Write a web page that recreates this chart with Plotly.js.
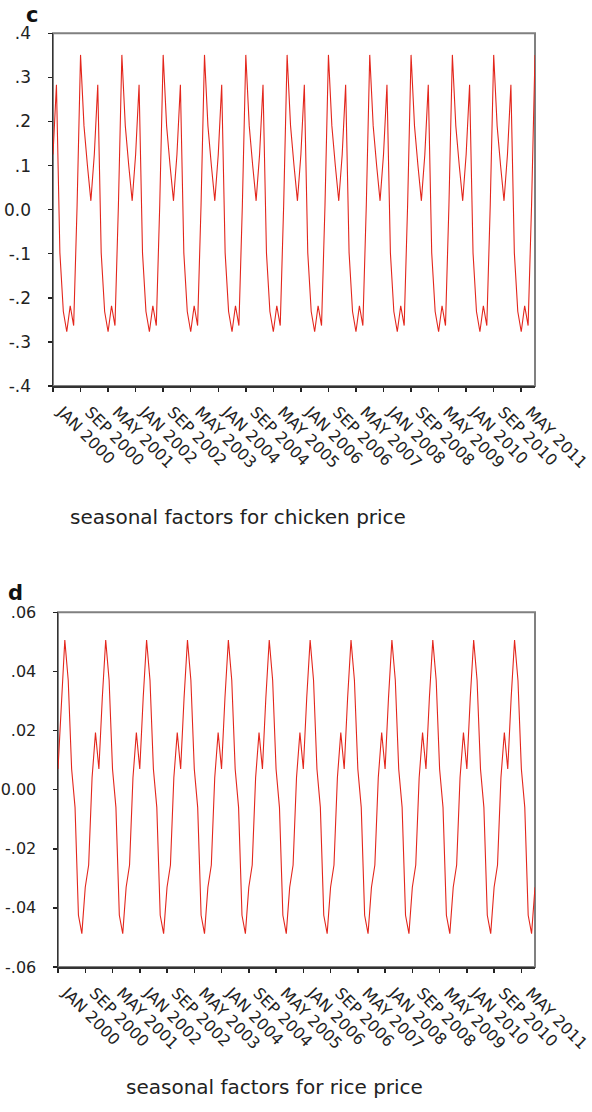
<!DOCTYPE html>
<html>
<head>
<meta charset="utf-8">
<script src="https://cdn.plot.ly/plotly-3.0.1.min.js"></script>
<style>
html,body{margin:0;padding:0;background:#fff;}
#chart{width:592px;height:1112px;}
</style>
</head>
<body>
<div id="chart"></div>
<script>
// Month categories Jan 2000 .. Sep 2011
var monthNames = ["JAN","FEB","MAR","APR","MAY","JUN","JUL","AUG","SEP","OCT","NOV","DEC"];
var years = [2000,2001,2002,2003,2004,2005,2006,2007,2008,2009,2010,2011];
var lastYearMonths = 9;

// Tick labels (every 8 months)
var tickLabels = ["JAN 2000","SEP 2000","MAY 2001","JAN 2002","SEP 2002","MAY 2003",
  "JAN 2004","SEP 2004","MAY 2005","JAN 2006","SEP 2006","MAY 2007",
  "JAN 2008","SEP 2008","MAY 2009","JAN 2010","SEP 2010","MAY 2011"];

// Seasonal factors for chicken price (monthly, Jan 2000 - Sep 2011)
var chicken = [
  0.125, 0.283, -0.098, -0.231, -0.277, -0.218, -0.263, 0.010, 0.351, 0.190, 0.100, 0.020,
  0.125, 0.283, -0.098, -0.231, -0.277, -0.218, -0.263, 0.010, 0.351, 0.190, 0.100, 0.020,
  0.125, 0.283, -0.098, -0.231, -0.277, -0.218, -0.263, 0.010, 0.351, 0.190, 0.100, 0.020,
  0.125, 0.283, -0.098, -0.231, -0.277, -0.218, -0.263, 0.010, 0.351, 0.190, 0.100, 0.020,
  0.125, 0.283, -0.098, -0.231, -0.277, -0.218, -0.263, 0.010, 0.351, 0.190, 0.100, 0.020,
  0.125, 0.283, -0.098, -0.231, -0.277, -0.218, -0.263, 0.010, 0.351, 0.190, 0.100, 0.020,
  0.125, 0.283, -0.098, -0.231, -0.277, -0.218, -0.263, 0.010, 0.351, 0.190, 0.100, 0.020,
  0.125, 0.283, -0.098, -0.231, -0.277, -0.218, -0.263, 0.010, 0.351, 0.190, 0.100, 0.020,
  0.125, 0.283, -0.098, -0.231, -0.277, -0.218, -0.263, 0.010, 0.351, 0.190, 0.100, 0.020,
  0.125, 0.283, -0.098, -0.231, -0.277, -0.218, -0.263, 0.010, 0.351, 0.190, 0.100, 0.020,
  0.125, 0.283, -0.098, -0.231, -0.277, -0.218, -0.263, 0.010, 0.351, 0.190, 0.100, 0.020,
  0.125, 0.283, -0.098, -0.231, -0.277, -0.218, -0.263, 0.010, 0.351
];

// Seasonal factors for rice price (monthly, Jan 2000 - Sep 2011)
var rice = [
  0.007, 0.031, 0.0506, 0.037, 0.007, -0.006, -0.0425, -0.0487, -0.033, -0.0255, 0.004, 0.0193,
  0.007, 0.031, 0.0506, 0.037, 0.007, -0.006, -0.0425, -0.0487, -0.033, -0.0255, 0.004, 0.0193,
  0.007, 0.031, 0.0506, 0.037, 0.007, -0.006, -0.0425, -0.0487, -0.033, -0.0255, 0.004, 0.0193,
  0.007, 0.031, 0.0506, 0.037, 0.007, -0.006, -0.0425, -0.0487, -0.033, -0.0255, 0.004, 0.0193,
  0.007, 0.031, 0.0506, 0.037, 0.007, -0.006, -0.0425, -0.0487, -0.033, -0.0255, 0.004, 0.0193,
  0.007, 0.031, 0.0506, 0.037, 0.007, -0.006, -0.0425, -0.0487, -0.033, -0.0255, 0.004, 0.0193,
  0.007, 0.031, 0.0506, 0.037, 0.007, -0.006, -0.0425, -0.0487, -0.033, -0.0255, 0.004, 0.0193,
  0.007, 0.031, 0.0506, 0.037, 0.007, -0.006, -0.0425, -0.0487, -0.033, -0.0255, 0.004, 0.0193,
  0.007, 0.031, 0.0506, 0.037, 0.007, -0.006, -0.0425, -0.0487, -0.033, -0.0255, 0.004, 0.0193,
  0.007, 0.031, 0.0506, 0.037, 0.007, -0.006, -0.0425, -0.0487, -0.033, -0.0255, 0.004, 0.0193,
  0.007, 0.031, 0.0506, 0.037, 0.007, -0.006, -0.0425, -0.0487, -0.033, -0.0255, 0.004, 0.0193,
  0.007, 0.031, 0.0506, 0.037, 0.007, -0.006, -0.0425, -0.0487, -0.033
];

// Y tick values / labels
var chickenTickVals = [0.4, 0.3, 0.2, 0.1, 0, -0.1, -0.2, -0.3, -0.4];
var chickenTickText = [".4", ".3", ".2", ".1", "0.0", "-.1", "-.2", "-.3", "-.4"];
var riceTickVals = [0.06, 0.04, 0.02, 0, -0.02, -0.04, -0.06];
var riceTickText = [".06", ".04", ".02", "0.00", "-.02", "-.04", "-.06"];

var months = [];
years.forEach(function(y, i){
  var n = (i === years.length - 1) ? lastYearMonths : 12;
  for (var m = 0; m < n; m++) months.push(monthNames[m] + " " + y);
});

var W = 592, H = 1112;
var FONT = "DejaVu Sans, Verdana, sans-serif";
var lineColor = "#e3261c";

var traces = [
  {x: months, y: chicken, type: "scatter", mode: "lines", xaxis: "x", yaxis: "y",
   line: {color: lineColor, width: 1.1}, hoverinfo: "none"},
  {x: months, y: rice, type: "scatter", mode: "lines", xaxis: "x2", yaxis: "y2",
   line: {color: lineColor, width: 1.1}, hoverinfo: "none"}
];

function xAxis(domain, anchor){
  return {
    type: "category", domain: domain, anchor: anchor,
    range: [0, months.length - 1],
    tickmode: "array", tickvals: tickLabels, ticktext: tickLabels,
    tickangle: 45, ticks: "outside", ticklen: 4, tickwidth: 1.5, tickcolor: "#222",
    ticklabelshift: 9, ticklabelstandoff: 5,
    showline: true, linecolor: "#333", linewidth: 1.5,
    showgrid: false, zeroline: false,
    tickfont: {family: FONT, size: 16, color: "#222"}
  };
}
function yAxis(domain, anchor, range, vals, text, fs){
  return {
    domain: domain, anchor: anchor, range: range,
    tickmode: "array", tickvals: vals, ticktext: text,
    ticks: "outside", ticklen: 4, tickwidth: 1.5, tickcolor: "#222",
    ticklabelstandoff: 13,
    showline: true, linecolor: "#333", linewidth: 1.5,
    showgrid: false, zeroline: false,
    tickfont: {family: FONT, size: fs, color: "#222"}
  };
}

var topX = [53/W, 535/W], topY = [1 - 386/H, 1 - 33.3/H];
var botX = [58/W, 535/W], botY = [1 - 967/H, 1 - 612.3/H];

var layout = {
  width: W, height: H,
  margin: {l: 0, r: 0, t: 0, b: 0},
  paper_bgcolor: "#fff", plot_bgcolor: "#fff",
  showlegend: false,
  xaxis: xAxis(topX, "y"),
  yaxis: yAxis(topY, "x", [-0.4, 0.4], chickenTickVals, chickenTickText, 17),
  xaxis2: xAxis(botX, "y2"),
  yaxis2: yAxis(botY, "x2", [-0.06, 0.06], riceTickVals, riceTickText, 16),
  shapes: [
    {type: "rect", xref: "paper", yref: "paper", x0: topX[0], x1: topX[1], y0: topY[0], y1: topY[1],
     line: {color: "#808080", width: 2}, layer: "below"},
    {type: "rect", xref: "paper", yref: "paper", x0: botX[0], x1: botX[1], y0: botY[0], y1: botY[1],
     line: {color: "#808080", width: 2}, layer: "below"}
  ],
  annotations: [
    {text: "<b>c</b>", xref: "paper", yref: "paper", x: 24/W, y: 1 - 15/H, xanchor: "left", yanchor: "middle",
     showarrow: false, font: {family: FONT, size: 21, color: "#111"}},
    {text: "<b>d</b>", xref: "paper", yref: "paper", x: 6/W, y: 1 - 593/H, xanchor: "left", yanchor: "middle",
     showarrow: false, font: {family: FONT, size: 21, color: "#111"}},
    {text: "seasonal factors for chicken price", xref: "paper", yref: "paper", x: 238/W, y: 1 - 517/H,
     xanchor: "center", yanchor: "middle", showarrow: false, font: {family: FONT, size: 20, color: "#222"}},
    {text: "seasonal factors for rice price", xref: "paper", yref: "paper", x: 274/W, y: 1 - 1087/H,
     xanchor: "center", yanchor: "middle", showarrow: false, font: {family: FONT, size: 20, color: "#222"}}
  ]
};

Plotly.newPlot("chart", traces, layout, {staticPlot: true, displayModeBar: false});
</script>
</body>
</html>
